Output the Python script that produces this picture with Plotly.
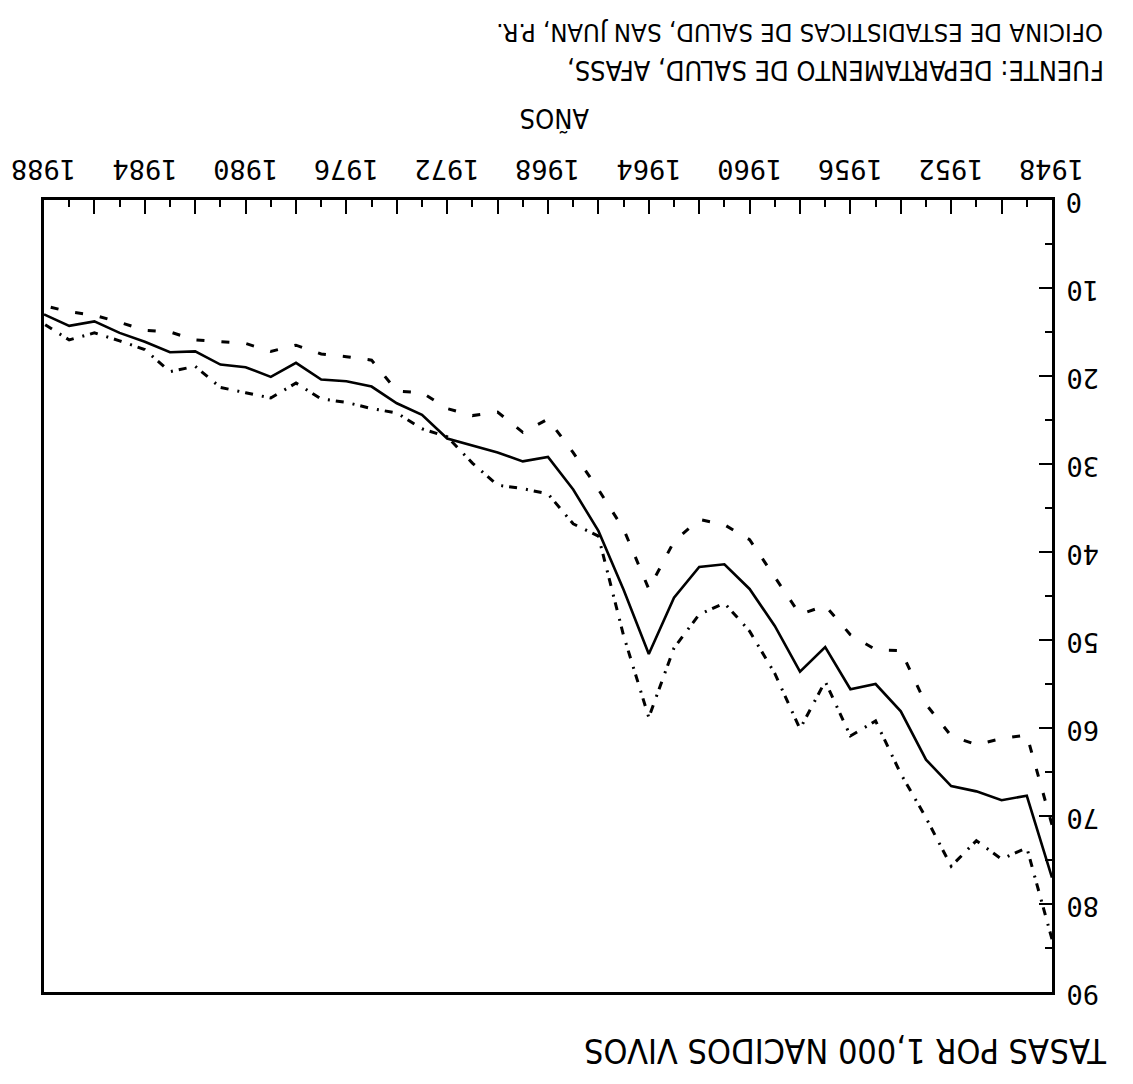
import plotly.graph_objects as go

# Años del período
years = list(range(1948, 1989))

# Tasas por 1,000 nacidos vivos (1948 ... 1988)
tasa_continua = [77.0, 67.7, 68.2, 67.2, 66.6, 63.6, 58.1, 55.0, 55.6, 50.8,
                 53.6, 48.4, 44.2, 41.4, 41.7, 45.2, 51.6, 44.3, 37.6, 32.9,
                 29.2, 29.7, 28.7, 27.9, 27.1, 24.4, 23.1, 21.2, 20.6, 20.4,
                 18.5, 20.1, 19.0, 18.7, 17.2, 17.3, 16.1, 15.1, 13.8, 14.3,
                 13.0]
tasa_trazos = [71.0, 60.8, 61.2, 61.9, 60.9, 57.3, 51.2, 51.1, 49.4, 46.1,
               47.1, 42.9, 38.6, 36.9, 36.3, 38.8, 44.2, 37.4, 32.9, 28.7,
               24.9, 26.4, 24.1, 24.5, 23.7, 21.9, 21.7, 18.2, 17.8, 17.5,
               16.5, 17.2, 16.3, 16.1, 15.9, 15.0, 14.8, 13.9, 13.1, 12.7,
               12.0]
tasa_trazo_punto = [84.0, 73.6, 74.9, 72.8, 75.7, 70.2, 65.2, 59.2, 60.9, 54.7,
                    60.1, 53.8, 49.0, 45.8, 47.1, 50.9, 58.8, 49.5, 38.2, 36.8,
                    33.4, 32.8, 32.4, 29.9, 26.9, 26.0, 24.2, 23.7, 23.0, 22.6,
                    20.8, 22.5, 21.9, 21.3, 18.9, 19.5, 17.0, 16.0, 15.1, 15.9,
                    14.1]

# Ejes
year_ticks = list(range(1948, 1989, 2))
year_labels = list(range(1948, 1989, 4))
rate_ticks = list(range(0, 91, 10))

# Textos
titulo_x = "AÑOS"
fuente_1 = "FUENTE: DEPARTAMENTO DE SALUD, AFASS,"
fuente_2 = "OFICINA DE ESTADISTICAS DE SALUD, SAN JUAN, P.R."
titulo_y = "TASAS POR 1,000 NACIDOS VIVOS"

TEXT_FONT = "Liberation Sans Narrow, DejaVu Sans Condensed, Arial Narrow, sans-serif"
TICK_FONT = "DejaVu Sans Mono, monospace"

# Área de trazado en píxeles
L, R, T, B = 44, 1052, 200, 992
W, H = 1133, 1084

fig = go.Figure()
fig.add_trace(go.Scatter(x=years, y=tasa_trazos, mode="lines",
                         line=dict(color="black", width=3, dash="8px,17px")))
fig.add_trace(go.Scatter(x=years, y=tasa_trazo_punto, mode="lines",
                         line=dict(color="black", width=3, dash="8px,6px,2px,9px")))
fig.add_trace(go.Scatter(x=years, y=tasa_continua, mode="lines",
                         line=dict(color="black", width=2.6)))

fig.update_layout(
    width=W, height=H,
    margin=dict(l=L, r=W - R, t=T, b=H - B, autoexpand=False),
    paper_bgcolor="white", plot_bgcolor="white",
    showlegend=False,
    xaxis=dict(
        range=[1988, 1948], side="top", showgrid=False, zeroline=False,
        showline=True, linecolor="black", linewidth=3, mirror=True,
        tickmode="array", tickvals=year_ticks, showticklabels=False,
        ticks="inside", ticklen=14, tickwidth=2, tickcolor="black",
        minor=dict(dtick=1, ticks="inside", ticklen=7, tickwidth=2,
                   tickcolor="black", showgrid=False),
        automargin=False,
    ),
    yaxis=dict(
        range=[90, 0], side="right", showgrid=False, zeroline=False,
        showline=True, linecolor="black", linewidth=3, mirror=True,
        tickmode="array", tickvals=rate_ticks, showticklabels=False,
        ticks="inside", ticklen=13, tickwidth=2, tickcolor="black",
        minor=dict(dtick=5, ticks="inside", ticklen=7, tickwidth=2,
                   tickcolor="black", showgrid=False),
        automargin=False,
    ),
)

def paper_x(px):
    return (px - L) / (R - L)

def paper_y(py):
    return (B - py) / (B - T)

# Etiquetas de los ejes, invertidas
for yr in year_labels:
    fig.add_annotation(text=str(yr), x=yr, y=paper_y(170), xref="x", yref="paper",
                       xanchor="center", yanchor="middle", showarrow=False,
                       textangle=180,
                       font=dict(family=TICK_FONT, size=27, color="black"))
for v in rate_ticks:
    fig.add_annotation(text=str(v), x=paper_x(1064), y=v, xref="paper", yref="y",
                       xanchor="left", yanchor="middle", yshift=-3, showarrow=False,
                       textangle=180,
                       font=dict(family=TICK_FONT, size=27, color="black"))

# Títulos y fuente
annots = [
    (titulo_x, 555, 118, 27),
    (fuente_1, 836, 71, 27),
    (fuente_2, 800, 33, 25.5),
    (titulo_y, 846, 1051, 34),
]
for text, px, py, size in annots:
    fig.add_annotation(text=text, x=paper_x(px), y=paper_y(py), xref="paper", yref="paper",
                       xanchor="center", yanchor="middle", showarrow=False,
                       textangle=180,
                       font=dict(family=TEXT_FONT, size=size, color="black"))

fig.write_html("out.html")
